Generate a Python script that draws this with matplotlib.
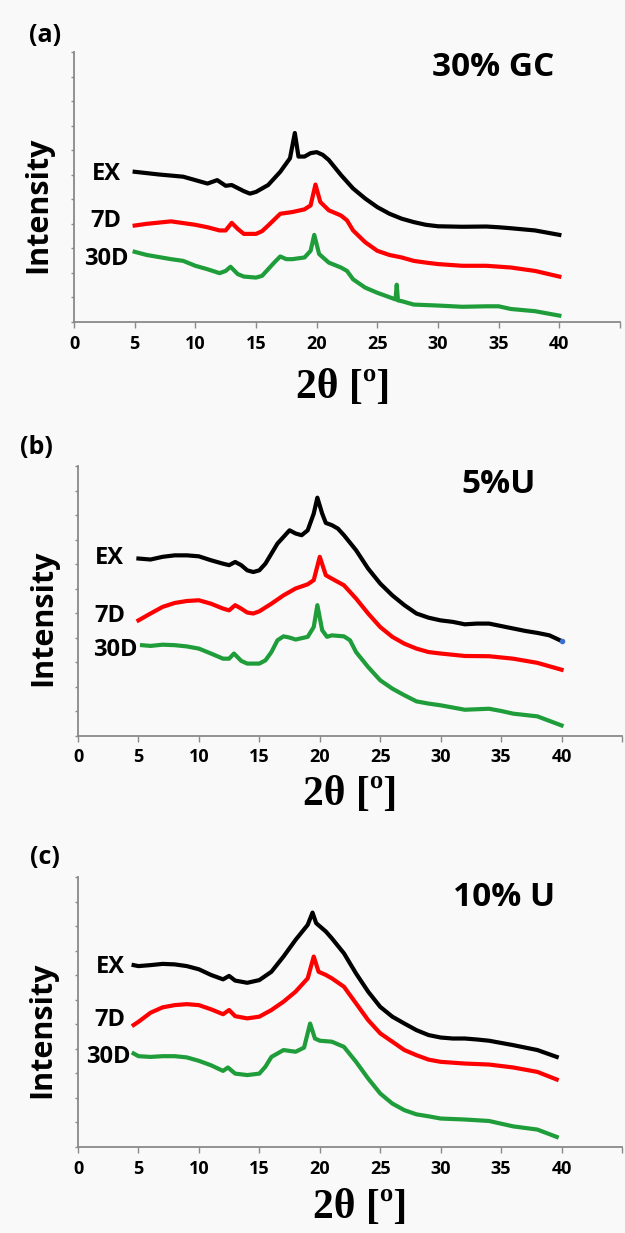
import matplotlib
matplotlib.use("Agg")
import matplotlib.pyplot as plt

plt.rcParams['font.family'] = ['Open Sans', 'DejaVu Sans']

# ---------------- data ----------------
panel_letters = ["(a)", "(b)", "(c)"]
panel_titles = ["30% GC", "5%U", "10% U"]
series_names = ["EX", "7D", "30D"]
series_colors = ["#000000", "#ff0000", "#1f9d3a"]
x_ticks = [0, 5, 10, 15, 20, 25, 30, 35, 40, 45]
x_tick_labels = ["0", "5", "10", "15", "20", "25", "30", "35", "40", ""]

# panel (a) 30% GC
a_ex_x = [5, 7, 9, 11, 11.8, 12.5, 13, 14, 14.5, 15, 16, 17, 17.8, 18.2, 18.5, 19, 19.5, 20, 20.5, 21, 22, 23, 24, 25, 26, 27, 28, 29, 30, 32, 34, 35, 36, 38, 40]
a_ex_y = [6.12, 6.01, 5.92, 5.64, 5.78, 5.55, 5.58, 5.33, 5.23, 5.30, 5.58, 6.12, 6.67, 7.70, 6.74, 6.74, 6.88, 6.92, 6.81, 6.60, 5.99, 5.44, 5.03, 4.68, 4.41, 4.21, 4.07, 3.96, 3.90, 3.88, 3.89, 3.86, 3.82, 3.73, 3.55]
a_7d_x = [5, 6, 8, 10, 11, 12, 12.5, 13, 13.5, 14, 15, 15.5, 16, 17, 18, 19, 19.5, 19.9, 20.3, 21, 22, 22.5, 23, 24, 25, 26, 27, 28, 29, 30, 32, 34, 36, 38, 40]
a_7d_y = [3.93, 4.00, 4.10, 3.96, 3.86, 3.73, 3.73, 4.04, 3.79, 3.59, 3.59, 3.70, 3.93, 4.41, 4.48, 4.59, 4.75, 5.60, 4.89, 4.55, 4.34, 4.14, 3.73, 3.25, 2.90, 2.73, 2.63, 2.49, 2.42, 2.36, 2.29, 2.29, 2.22, 2.08, 1.85]
a_30d_x = [5, 6, 8, 9, 10, 11, 12, 12.5, 12.9, 13.5, 14, 15, 15.5, 16, 16.5, 17, 17.5, 18, 19, 19.5, 19.8, 20.2, 21, 22, 22.5, 23, 24, 25, 26, 26.5, 26.6, 26.7, 27, 28, 30, 32, 34, 35, 36, 38, 40]
a_30d_y = [2.86, 2.73, 2.56, 2.49, 2.29, 2.15, 1.99, 2.08, 2.25, 1.95, 1.85, 1.81, 1.88, 2.15, 2.42, 2.67, 2.56, 2.56, 2.63, 2.90, 3.55, 2.77, 2.42, 2.22, 2.08, 1.74, 1.40, 1.19, 1.01, 0.92, 1.52, 0.88, 0.85, 0.71, 0.67, 0.62, 0.64, 0.64, 0.53, 0.44, 0.26]

# panel (b) 5% U
b_ex_x = [5, 6, 7, 8, 9, 10, 11, 12, 12.5, 13, 13.5, 14, 14.5, 15, 15.5, 16, 16.5, 17, 17.5, 18, 18.5, 19, 19.5, 19.8, 20.2, 20.5, 21, 21.5, 22, 23, 24, 25, 26, 27, 28, 29, 30, 31, 32, 33, 34, 35, 36, 37, 38, 39, 40]
b_ex_y = [7.23, 7.19, 7.30, 7.36, 7.36, 7.32, 7.16, 7.02, 6.96, 7.09, 6.96, 6.75, 6.68, 6.75, 7.02, 7.43, 7.84, 8.11, 8.38, 8.25, 8.18, 8.38, 9.06, 9.71, 9.06, 8.68, 8.59, 8.45, 8.18, 7.57, 6.82, 6.21, 5.73, 5.33, 4.99, 4.82, 4.71, 4.65, 4.55, 4.58, 4.58, 4.48, 4.38, 4.28, 4.20, 4.10, 3.87]
b_7d_x = [5, 6, 7, 8, 9, 10, 11, 12, 12.5, 13, 13.5, 14, 14.5, 15, 16, 17, 18, 19, 19.5, 20, 20.5, 21, 22, 23, 24, 25, 26, 27, 28, 29, 30, 32, 34, 36, 38, 40]
b_7d_y = [4.71, 4.99, 5.26, 5.42, 5.50, 5.53, 5.39, 5.19, 5.12, 5.33, 5.19, 5.03, 4.99, 5.08, 5.39, 5.73, 6.01, 6.18, 6.35, 7.30, 6.55, 6.41, 6.14, 5.60, 4.99, 4.44, 4.04, 3.76, 3.56, 3.42, 3.36, 3.26, 3.25, 3.15, 2.98, 2.70]
b_30d_x = [5.3, 6, 7, 8, 9, 10, 11, 12, 12.5, 12.9, 13.5, 14, 15, 15.5, 16, 16.5, 17, 17.5, 18, 19, 19.5, 19.8, 20.2, 20.6, 21, 22, 22.5, 23, 24, 25, 26, 27, 28, 29, 30, 32, 34, 35, 36, 38, 40]
b_30d_y = [3.70, 3.67, 3.72, 3.70, 3.65, 3.56, 3.36, 3.15, 3.15, 3.36, 3.06, 2.95, 2.95, 3.08, 3.42, 3.90, 4.06, 4.01, 3.93, 4.04, 4.44, 5.33, 4.31, 4.04, 4.10, 4.06, 3.90, 3.42, 2.81, 2.27, 1.93, 1.66, 1.41, 1.32, 1.25, 1.07, 1.11, 1.02, 0.91, 0.80, 0.43]

# panel (c) 10% U
c_ex_x = [4.6, 5, 6, 7, 8, 9, 10, 11, 12, 12.5, 13, 14, 15, 16, 17, 18, 19, 19.4, 19.7, 20.5, 21, 22, 23, 24, 25, 26, 27, 28, 29, 30, 31, 32, 33, 34, 35, 36, 37, 38, 39.6]
c_ex_y = [7.41, 7.37, 7.41, 7.46, 7.44, 7.37, 7.24, 7.01, 6.83, 6.97, 6.78, 6.69, 6.80, 7.14, 7.76, 8.44, 9.05, 9.55, 9.12, 8.78, 8.50, 7.89, 7.07, 6.33, 5.71, 5.31, 5.03, 4.76, 4.56, 4.46, 4.42, 4.42, 4.38, 4.33, 4.24, 4.15, 4.05, 3.95, 3.67]
c_7d_x = [4.6, 5, 6, 7, 8, 9, 10, 11, 12, 12.5, 13, 14, 15, 16, 17, 18, 19, 19.5, 19.9, 20.5, 21, 22, 23, 24, 25, 26, 27, 28, 29, 30, 32, 34, 36, 38, 39.6]
c_7d_y = [4.97, 5.10, 5.47, 5.69, 5.78, 5.82, 5.78, 5.61, 5.41, 5.58, 5.33, 5.24, 5.31, 5.58, 5.92, 6.33, 6.87, 7.76, 7.14, 7.01, 6.87, 6.53, 5.85, 5.17, 4.63, 4.29, 3.95, 3.74, 3.56, 3.47, 3.40, 3.36, 3.24, 3.06, 2.75]
c_30d_x = [4.6, 5, 6, 7, 8, 9, 10, 11, 12, 12.4, 13, 14, 15, 15.5, 16, 17, 18, 18.7, 19.2, 19.6, 20, 21, 22, 23, 24, 25, 26, 27, 28, 29, 30, 32, 33, 34, 35, 36, 38, 39.6]
c_30d_y = [3.81, 3.70, 3.67, 3.70, 3.70, 3.65, 3.51, 3.33, 3.10, 3.24, 2.99, 2.93, 2.99, 3.27, 3.67, 3.95, 3.88, 4.05, 5.03, 4.42, 4.33, 4.29, 4.08, 3.47, 2.79, 2.18, 1.77, 1.50, 1.33, 1.25, 1.16, 1.12, 1.09, 1.06, 0.95, 0.84, 0.71, 0.41]

panels = [
    [(a_ex_x, a_ex_y), (a_7d_x, a_7d_y), (a_30d_x, a_30d_y)],
    [(b_ex_x, b_ex_y), (b_7d_x, b_7d_y), (b_30d_x, b_30d_y)],
    [(c_ex_x, c_ex_y), (c_7d_x, c_7d_y), (c_30d_x, c_30d_y)],
]

# ---------------- layout (pixels) ----------------
W, H = 625, 1233
fig = plt.figure(figsize=(W / 100, H / 100), dpi=100)
fig.patch.set_facecolor("#f9f9f9")

# (left, right, top, bottom) of each axes in pixels
axes_px = [(74, 620, 52, 322), (78, 622, 466, 736), (78, 622, 877, 1147)]
letter_px = [(45, 35), (36, 448), (45, 858)]
title_px = [(493, 67), (499, 485), (504, 897)]
ylabel_px = [(38, 205), (43, 618), (42, 1030)]
xlabel_px = [(343, 388), (350, 795), (360, 1208)]
# name label positions (data coords: right edge x, centre y)
name_pos = [
    [(3.9, 6.05), (3.9, 4.10), (4.5, 2.56)],
    [(3.8, 7.26), (3.95, 4.88), (4.9, 3.49)],
    [(3.85, 7.35), (3.95, 5.17), (4.35, 3.67)],
]

spine_col = "#8a8a8a"
for i in range(3):
    l, r, t, b = axes_px[i]
    ax = fig.add_axes([l / W, 1 - b / H, (r - l) / W, (b - t) / H])
    ax.set_facecolor("none")
    for (xs, ys), col in zip(panels[i], series_colors):
        ax.plot(xs, ys, color=col, lw=3.0, solid_joinstyle="round")
    if i == 1:
        ax.plot(b_ex_x[-1:], b_ex_y[-1:], "o", color="#3a6fd0", ms=3)
    ax.set_xlim(0, 45)
    ax.set_ylim(0, 11)
    ax.set_xticks(x_ticks)
    ax.set_xticklabels(x_tick_labels)
    ax.set_yticks(range(0, 12))
    ax.set_yticklabels([])
    for s in ["top", "right"]:
        ax.spines[s].set_visible(False)
    for s in ["left", "bottom"]:
        ax.spines[s].set_color(spine_col)
        ax.spines[s].set_linewidth(1.3)
    ax.tick_params(axis="x", direction="out", length=4, width=1, color=spine_col,
                   pad=5, labelsize=13)
    ax.tick_params(axis="y", direction="out", length=2.5, width=1, color=spine_col)
    for lab in ax.get_xticklabels():
        lab.set_fontweight("bold")
    for (nx, ny), name in zip(name_pos[i], series_names):
        ax.text(nx, ny, name, ha="right", va="center", fontsize=17, fontweight="bold")

    fig.text(letter_px[i][0] / W, 1 - letter_px[i][1] / H, panel_letters[i],
             ha="center", va="center", fontsize=18, fontweight="bold")
    fig.text(title_px[i][0] / W, 1 - title_px[i][1] / H, panel_titles[i],
             ha="center", va="center", fontsize=24, fontweight="bold")
    fig.text(ylabel_px[i][0] / W, 1 - ylabel_px[i][1] / H, "Intensity",
             ha="center", va="center", rotation=90, fontsize=22, fontweight="bold")
    fig.text(xlabel_px[i][0] / W, 1 - xlabel_px[i][1] / H, "2θ [º]",
             ha="center", va="center", fontsize=30, fontweight="bold",
             family=["Liberation Serif", "DejaVu Serif"])

fig.savefig("out.png", dpi=100, facecolor=fig.get_facecolor())
